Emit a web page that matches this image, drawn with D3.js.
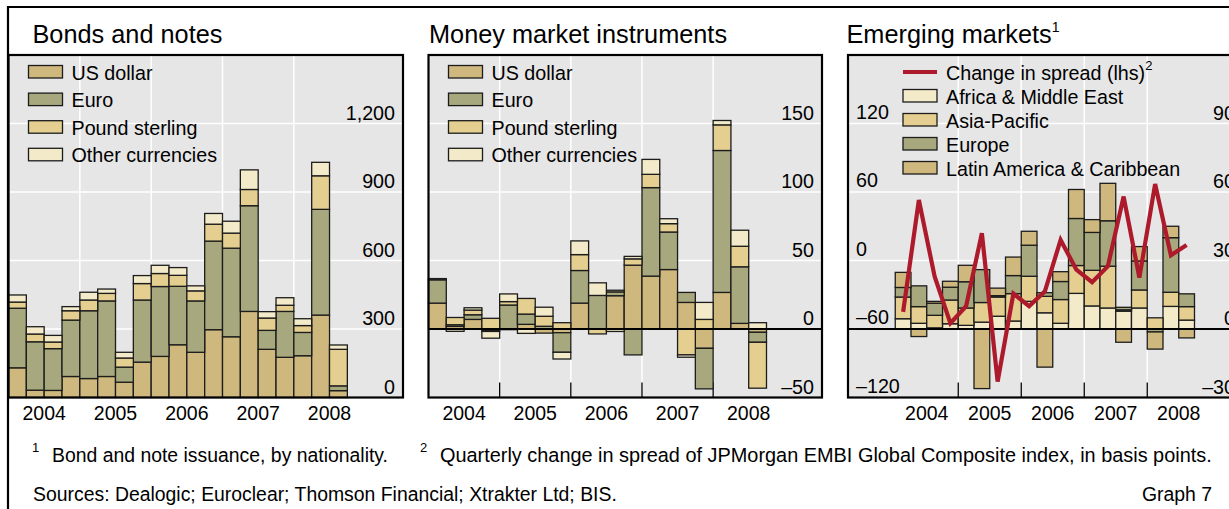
<!DOCTYPE html>
<html><head><meta charset="utf-8">
<script src="https://cdn.jsdelivr.net/npm/d3@7"></script>
<style>
body{margin:0;background:#fff;}
svg{display:block;}
text{font-family:"Liberation Sans",Arial,Helvetica,sans-serif;fill:#000;}
</style>
</head><body>
<svg id="c" width="1229" height="509"></svg>
<script>
// ---------------- DATA ----------------
const quarters = ["2004 Q1","2004 Q2","2004 Q3","2004 Q4","2005 Q1","2005 Q2","2005 Q3","2005 Q4",
  "2006 Q1","2006 Q2","2006 Q3","2006 Q4","2007 Q1","2007 Q2","2007 Q3","2007 Q4","2008 Q1","2008 Q2","2008 Q3"];
const yearLabels = ["2004","2005","2006","2007","2008"];
const currencyKeys = ["US dollar","Euro","Pound sterling","Other currencies"];
const regionKeys = ["Africa & Middle East","Asia-Pacific","Europe","Latin America & Caribbean"];

// Bonds and notes (USD bn)
const bondsUS    = [130, 32, 31, 92, 83, 92, 67,155,180,231,198,297,266,377,211,176,183,361, 30];
const bondsEuro  = [261,212,183,247,297,331, 66,272,306,256,225,388,388,463, 83,201,102,463, 21];
const bondsPound = [ 27, 34, 29, 41, 47, 33, 40, 72, 57, 48, 44, 74, 66, 71, 54, 27, 30,147,160];
const bondsOther = [ 31, 32, 29, 18, 34, 19, 25, 35, 36, 34, 22, 47, 52, 86, 28, 33, 30, 59, 19];

// Money market instruments (USD bn)
const mmUS    = [18.9, 1.9, 7.0,-1.0,-0.5, 3.4,-3.0, -2.7,18.9, 0.0,24.3, 46.6,38.6,43.4, 19.4,-14.1, 26.7, 4.1, -2.4];
const mmEuro  = [17.0, 1.2, 3.4,-0.8,17.5, 7.5, 2.0,-14.3,23.8,24.5, 2.8,-18.9,64.6,27.4,  7.3,-29.6,103.6,41.3, -7.3];
const mmPound = [ 0.5, 5.3, 3.4, 7.8, 2.5,11.4, 7.3,  4.6,11.6,-3.6, 1.2,  4.6, 9.7, 6.1,-18.9,  7.0, 18.7,15.0,-33.5];
const mmOther = [ 0.4,-1.7, 1.7,-4.9, 5.6,-3.2, 6.6, -4.9,10.0, 9.2,-1.8,  1.8,10.9, 3.6, -1.7, 12.4,  3.2,11.7,  4.6];

// Emerging markets (USD bn, rhs)
const emAfrica = [4.5, 2.5, 0.5, 2.3, 1.6,  3.0, 5.6, 3.5,12.1,  7.1, 2.5,15.6,10.1, 9.2, 7.8, 9.2, 0.0, 9.9, 3.9];
const emAsia   = [9.5, 7.3, 5.5,10.4, 7.6,  8.6, 8.4,12.0,11.0,  7.2,10.4,12.2,15.6,18.3, 0.6, 7.9, 4.9, 6.2, 5.9];
const emEurope = [4.2, 9.1, 5.3, 5.6,11.5, 14.4, 0.6, 7.9,13.6,  1.6, 7.9,20.6,16.6,19.9, 1.1,12.7,-1.3,23.9, 5.6];
const emLatam  = [6.6,-3.3, 0.8, 2.6, 7.2,-26.1, 3.3, 8.1, 6.1,-16.7, 4.3,12.7, 5.6,16.4,-5.8, 6.3,-7.5, 5.0,-3.9];
// Change in spread (basis points, lhs)
const spreadChange = [-45, 53, -14, -55, -40, 24, -106, -29, -40, -27, 18, -8, -19, -5, 56, -15, 67, 4.6, 13.5];

// Tick values
const bondsTicks = [0, 300, 600, 900, 1200];
const mmTicks = [-50, 0, 50, 100, 150];
const emLeftTicks = [-120, -60, 0, 60, 120];
const emRightTicks = [-30, 0, 30, 60, 90];

// Colours
const colUS = "#cfb87d", colEuro = "#a7a87d", colPound = "#e4cf91", colOther = "#f3eac9";
const currencyColors = [colUS, colEuro, colPound, colOther];
const regionColors = [colOther, colPound, colEuro, colUS];
const lineColor = "#ad1a2b";

// ---------------- DRAW ----------------
const svg = d3.select("#c");
const TOP = 55, BOTTOM = 397.5;
const fmt = v => (v < 0 ? "\u2013" : "") + d3.format(",")(Math.abs(v));
const parseQ = q => +q.slice(0,4) + (+q.slice(6) - 1) / 4;
const boundaries = yearLabels.slice(1).map(Number);

function drawPanel(o) {
  const g = svg.append("g");
  const x = d3.scaleLinear().domain(o.xDomain).range([o.left, o.right]);
  const yBar = d3.scaleLinear().domain(o.barDomain).range([BOTTOM, TOP]);
  const yGrid = o.gridScale ? d3.scaleLinear().domain(o.gridScale).range([BOTTOM, TOP]) : yBar;

  g.append("rect").attr("x", o.left).attr("y", TOP).attr("width", o.right - o.left)
    .attr("height", BOTTOM - TOP).attr("fill", "#e6e6e6");

  g.selectAll("line.hg").data(o.gridTicks.filter(v => v !== o.zeroAt && yGrid(v) < BOTTOM - 1))
    .join("line").attr("x1", o.left).attr("x2", o.right)
    .attr("y1", d => yGrid(d)).attr("y2", d => yGrid(d))
    .attr("stroke", "#fff").attr("stroke-width", 1.5);
  g.selectAll("line.vg").data(boundaries).join("line")
    .attr("x1", d => x(d)).attr("x2", d => x(d)).attr("y1", TOP).attr("y2", BOTTOM)
    .attr("stroke", "#fff").attr("stroke-width", 1.5);
  g.selectAll("line.tk").data(boundaries).join("line")
    .attr("x1", d => x(d)).attr("x2", d => x(d)).attr("y1", BOTTOM - 15).attr("y2", BOTTOM)
    .attr("stroke", "#000").attr("stroke-width", 1.3);

  const rows = quarters.map((q, i) => {
    const r = { t: parseQ(q) };
    o.keys.forEach((k, j) => r[k] = o.series[j][i]);
    return r;
  });
  const stacked = d3.stack().keys(o.keys).offset(d3.stackOffsetDiverging)(rows);
  g.selectAll("g.s").data(stacked).join("g").attr("fill", (d, i) => o.colors[i])
    .selectAll("rect").data(d => d.filter(e => e[1] !== e[0])).join("rect")
    .attr("x", d => x(d.data.t)).attr("width", d => x(d.data.t + 0.25) - x(d.data.t))
    .attr("y", d => yBar(Math.max(d[0], d[1])))
    .attr("height", d => Math.abs(yBar(d[0]) - yBar(d[1])))
    .attr("stroke", "#1c1c1c").attr("stroke-width", 1.3);

  if (o.zeroLine) {
    g.append("line").attr("x1", o.left).attr("x2", o.right)
      .attr("y1", yBar(0)).attr("y2", yBar(0)).attr("stroke", "#000").attr("stroke-width", 2);
  }

  if (o.line) {
    const yL = d3.scaleLinear().domain(o.lineDomain).range([BOTTOM, TOP]);
    g.append("path").datum(o.line)
      .attr("d", d3.line().x((d, i) => x(parseQ(quarters[i]) + 0.125)).y(d => yL(d)))
      .attr("fill", "none").attr("stroke", lineColor).attr("stroke-width", 4.2)
      .attr("stroke-linejoin", "miter").attr("stroke-miterlimit", 3);
  }

  g.selectAll("text.tl").data(o.rightTicks).join("text")
    .attr("x", o.right - 8).attr("y", d => yBar(d) - 4)
    .attr("text-anchor", "end").attr("font-size", 19.7).text(fmt);
  if (o.leftTicks) {
    const yL = d3.scaleLinear().domain(o.lineDomain).range([BOTTOM, TOP]);
    g.selectAll("text.ll").data(o.leftTicks).join("text")
      .attr("x", o.left + 8).attr("y", d => yL(d) - 5)
      .attr("font-size", 19.7).text(fmt);
  }

  g.selectAll("text.yr").data(yearLabels).join("text")
    .attr("x", d => x(+d + 0.5)).attr("y", 420).attr("text-anchor", "middle")
    .attr("font-size", 19.5).text(d => d);

  const t = g.append("text").attr("x", o.titleX).attr("y", 43).attr("font-size", 25.3).text(o.title);
  if (o.titleSup) {
    t.append("tspan").attr("font-size", 14).attr("dy", -11).text(o.titleSup);
  }

  const lg = g.append("g");
  o.legend.forEach((it, i) => {
    const ly = o.legendY + i * o.legendStep;
    if (it.type === "line") {
      lg.append("line").attr("x1", o.legendX).attr("x2", o.legendX + 34)
        .attr("y1", ly + 6.5).attr("y2", ly + 6.5).attr("stroke", lineColor).attr("stroke-width", 4);
    } else {
      lg.append("rect").attr("x", o.legendX).attr("y", ly).attr("width", 34).attr("height", 12.5)
        .attr("fill", it.color).attr("stroke", "#1c1c1c").attr("stroke-width", 1.3);
    }
    const tx = lg.append("text").attr("x", o.legendX + 43).attr("y", ly + 14)
      .attr("font-size", 19.7).text(it.label);
    if (it.sup) tx.append("tspan").attr("font-size", 13).attr("dy", -10).text(it.sup);
  });

  g.append("rect").attr("x", o.left).attr("y", TOP).attr("width", o.right - o.left)
    .attr("height", BOTTOM - TOP).attr("fill", "none").attr("stroke", "#000").attr("stroke-width", 2.2);
}

drawPanel({
  left: 8.5, right: 403, xDomain: [2004, 2009.53], barDomain: [0, 1500],
  gridTicks: bondsTicks, zeroAt: 0, rightTicks: bondsTicks,
  keys: currencyKeys, colors: currencyColors,
  series: [bondsUS, bondsEuro, bondsPound, bondsOther],
  title: "Bonds and notes", titleX: 32.5,
  legend: currencyKeys.map((k, i) => ({ label: k, color: currencyColors[i] })),
  legendX: 28.5, legendY: 65.5, legendStep: 27.6
});

drawPanel({
  left: 428.5, right: 822, xDomain: [2004, 2009.53], barDomain: [-50, 200],
  gridTicks: mmTicks, zeroAt: 0, rightTicks: mmTicks, zeroLine: true,
  keys: currencyKeys, colors: currencyColors,
  series: [mmUS, mmEuro, mmPound, mmOther],
  title: "Money market instruments", titleX: 429,
  legend: currencyKeys.map((k, i) => ({ label: k, color: currencyColors[i] })),
  legendX: 448.5, legendY: 65.5, legendStep: 27.6
});

drawPanel({
  left: 848, right: 1243, xDomain: [2003.25, 2009.52], barDomain: [-30, 120],
  gridTicks: emLeftTicks, gridScale: [-120, 180], zeroAt: -60,
  rightTicks: emRightTicks, leftTicks: emLeftTicks, lineDomain: [-120, 180], zeroLine: true,
  keys: regionKeys, colors: regionColors,
  series: [emAfrica, emAsia, emEurope, emLatam],
  line: spreadChange,
  title: "Emerging markets", titleSup: "1", titleX: 846.5,
  legend: [{ type: "line", label: "Change in spread (lhs)", sup: "2" }]
    .concat(regionKeys.map((k, i) => ({ label: k, color: regionColors[i] }))),
  legendX: 903, legendY: 65.5, legendStep: 24
});

svg.append("line").attr("x1", 7).attr("x2", 1229).attr("y1", 7).attr("y2", 7)
  .attr("stroke", "#000").attr("stroke-width", 2.2);
svg.append("line").attr("x1", 8).attr("x2", 8).attr("y1", 6).attr("y2", 509)
  .attr("stroke", "#000").attr("stroke-width", 2.2);

const fn = svg.append("g");
fn.append("text").attr("x", 32).attr("y", 452).attr("font-size", 13).text("1");
fn.append("text").attr("x", 52).attr("y", 462).attr("font-size", 19.4).text("Bond and note issuance, by nationality.");
fn.append("text").attr("x", 420).attr("y", 452).attr("font-size", 13).text("2");
fn.append("text").attr("x", 440).attr("y", 462).attr("font-size", 19.9)
  .text("Quarterly change in spread of JPMorgan EMBI Global Composite index, in basis points.");
fn.append("text").attr("x", 33).attr("y", 501).attr("font-size", 19.4)
  .text("Sources: Dealogic; Euroclear; Thomson Financial; Xtrakter Ltd; BIS.");
fn.append("text").attr("x", 1212).attr("y", 501).attr("font-size", 19.4).attr("text-anchor", "end").text("Graph 7");
</script>
</body></html>
